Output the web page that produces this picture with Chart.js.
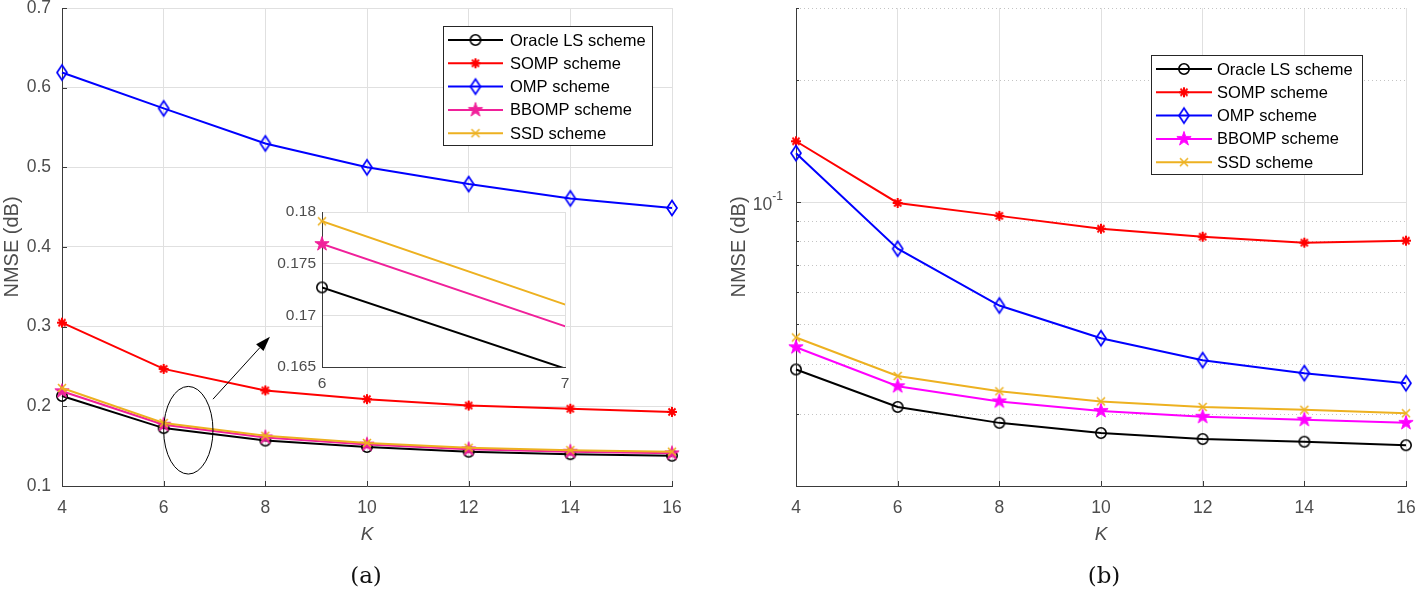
<!DOCTYPE html>
<html>
<head>
<meta charset="utf-8">
<script src="https://cdn.jsdelivr.net/npm/chart.js@4.4.0/dist/chart.umd.min.js"></script>
<style>
body { margin: 0; background: #fff; width: 1416px; height: 591px; overflow: hidden; position: relative; }
.pane { position: absolute; }
.cap { position: absolute; font-family: 'DejaVu Serif', 'Liberation Serif', serif; font-size: 23px; color: #111; transform: translate(-50%, -50%); }
</style>
</head>
<body>
<div class="pane" style="left:0;top:0"><canvas id="chartA" width="700" height="591"></canvas></div>
<div class="pane" style="left:708px;top:0"><canvas id="chartB" width="708" height="591"></canvas></div>
<div class="pane" style="left:250px;top:200px"><canvas id="inset" width="330" height="200"></canvas></div>
<div class="cap" style="left:366px;top:575px">(a)</div>
<div class="cap" style="left:1104px;top:575px">(b)</div>
<script>
// K values on the x axis
const K = [4, 6, 8, 10, 12, 14, 16];
const names = ['Oracle LS scheme', 'SOMP scheme', 'OMP scheme', 'BBOMP scheme', 'SSD scheme'];

// (a) linear axis
const oracleA = [0.213, 0.1727, 0.157, 0.149, 0.143, 0.140, 0.138];
const sompA   = [0.305, 0.247, 0.220, 0.209, 0.201, 0.197, 0.193];
const ompA    = [0.619, 0.574, 0.530, 0.500, 0.479, 0.461, 0.449];
const bbompA  = [0.219, 0.1769, 0.161, 0.152, 0.146, 0.143, 0.141];
const ssdA    = [0.223, 0.1791, 0.163, 0.154, 0.148, 0.145, 0.143];

// (b) log axis
const oracleB = [0.0387, 0.0313, 0.0286, 0.0270, 0.0261, 0.0257, 0.0252];
const sompB   = [0.141, 0.0994, 0.0924, 0.0859, 0.0821, 0.0794, 0.0803];
const ompB    = [0.1318, 0.0767, 0.0556, 0.0462, 0.0408, 0.0379, 0.0358];
const bbompB  = [0.0439, 0.0352, 0.0323, 0.0306, 0.0296, 0.0291, 0.0286];
const ssdB    = [0.0464, 0.0373, 0.0342, 0.0323, 0.0313, 0.0308, 0.0302];

const yTicksA = [0.1, 0.2, 0.3, 0.4, 0.5, 0.6, 0.7];
const yTicksInset = [0.165, 0.17, 0.175, 0.18];
const xTicksInset = [6, 7];
const yTicksB = [0.02, 0.03, 0.04, 0.05, 0.06, 0.07, 0.08, 0.09, 0.1, 0.2, 0.3];

const fam = "'Liberation Sans', Arial, sans-serif";
const tickColor = '#4d4d4d';
const gridColor = '#e0e0e0';
const axisColor = '#3a3a3a';

// marker images (matlab style)
function markerCanvas(w, h, paint) {
  const c = document.createElement('canvas');
  c.width = w; c.height = h;
  const g = c.getContext('2d');
  g.translate(w / 2, h / 2);
  paint(g);
  return c;
}
function circleMk(color) {
  return markerCanvas(14, 14, g => { g.strokeStyle = color; g.lineWidth = 1.6; g.beginPath(); g.arc(0, 0, 5.2, 0, Math.PI * 2); g.stroke(); });
}
function asteriskMk(color) {
  return markerCanvas(14, 14, g => {
    g.strokeStyle = color; g.lineWidth = 2; g.beginPath();
    for (let a = 0; a < 4; a++) {
      const t = a * Math.PI / 4;
      g.moveTo(-5 * Math.cos(t), -5 * Math.sin(t));
      g.lineTo(5 * Math.cos(t), 5 * Math.sin(t));
    }
    g.stroke();
  });
}
function diamondMk(color) {
  return markerCanvas(14, 20, g => {
    g.strokeStyle = color; g.lineWidth = 1.7; g.beginPath();
    g.moveTo(0, -7.5); g.lineTo(5, 0); g.lineTo(0, 7.5); g.lineTo(-5, 0); g.closePath(); g.stroke();
  });
}
function starMk(color) {
  return markerCanvas(18, 18, g => {
    const R = 7.5, r = R * 0.382;
    g.fillStyle = color; g.strokeStyle = color; g.lineWidth = 1; g.beginPath();
    for (let i = 0; i < 10; i++) {
      const rad = i % 2 ? r : R;
      const t = -Math.PI / 2 + i * Math.PI / 5;
      g.lineTo(rad * Math.cos(t), rad * Math.sin(t));
    }
    g.closePath(); g.fill(); g.stroke();
  });
}
function crossMk(color) {
  return markerCanvas(12, 12, g => {
    g.strokeStyle = color; g.lineWidth = 1.6; g.beginPath();
    g.moveTo(-4, -4); g.lineTo(4, 4); g.moveTo(-4, 4); g.lineTo(4, -4); g.stroke();
  });
}

const stylesA = [
  { color: '#000000', mk: circleMk('#000000') },
  { color: '#ff0000', mk: asteriskMk('#ff0000') },
  { color: '#0000ff', mk: diamondMk('#0000ff') },
  { color: '#f0209a', mk: starMk('#f0209a') },
  { color: '#edb120', mk: crossMk('#edb120') }
];
const stylesB = [
  { color: '#000000', mk: circleMk('#000000') },
  { color: '#ff0000', mk: asteriskMk('#ff0000') },
  { color: '#0000ff', mk: diamondMk('#0000ff') },
  { color: '#ff00ff', mk: starMk('#ff00ff') },
  { color: '#edb120', mk: crossMk('#edb120') }
];

function pts(vals) { return K.map((k, i) => ({ x: k, y: vals[i] })); }

function buildSets(series, styles, radius, clip) {
  return series.map((vals, i) => {
    const ds = {
      label: names[i],
      data: pts(vals),
      borderColor: styles[i].color,
      backgroundColor: styles[i].color,
      borderWidth: 2,
      pointStyle: styles[i].mk,
      pointRadius: radius,
      marker: styles[i].mk,
      tension: 0,
      fill: false,
      order: 10 - i
    };
    if (clip !== undefined) ds.clip = clip;
    return ds;
  });
}

// forces a scale to a fixed size so the plot box lands where the figure has it
function fixSize(w, h) {
  return function (scale) {
    if (w != null) scale.width = w;
    if (h != null) scale.height = h;
    scale.paddingTop = 0; scale.paddingBottom = 0; scale.paddingLeft = 0; scale.paddingRight = 0;
  };
}
function setTicks(list) {
  return function (scale) { scale.ticks = list.map(v => ({ value: v })); };
}

// legend box drawn inside the plot
function boxLegend(box, styles) {
  return {
    id: 'boxLegend',
    afterDraw(chart) {
      const ctx = chart.ctx;
      ctx.save();
      ctx.fillStyle = '#fff';
      ctx.fillRect(box.left, box.top, box.w, box.h);
      ctx.strokeStyle = '#262626';
      ctx.lineWidth = 1;
      ctx.strokeRect(box.left + 0.5, box.top + 0.5, box.w, box.h);
      ctx.font = '16.5px ' + fam;
      ctx.textBaseline = 'middle';
      names.forEach((n, i) => {
        const y = box.row0 + i * box.gap;
        ctx.strokeStyle = styles[i].color;
        ctx.lineWidth = 2;
        ctx.beginPath();
        ctx.moveTo(box.line0, y); ctx.lineTo(box.line1, y);
        ctx.stroke();
        const mk = styles[i].mk;
        ctx.drawImage(mk, (box.line0 + box.line1) / 2 - mk.width / 2, y - mk.height / 2);
        ctx.fillStyle = '#000';
        ctx.fillText(n, box.text, y + 1);
      });
      ctx.restore();
    }
  };
}

// small inward tick marks like matlab axes
function inwardTicks(xList, yList, minorList) {
  return {
    id: 'inwardTicks',
    afterDraw(chart) {
      const x = chart.scales.x, y = chart.scales.y, a = chart.chartArea, ctx = chart.ctx;
      ctx.save();
      ctx.strokeStyle = axisColor;
      ctx.lineWidth = 1;
      ctx.beginPath();
      xList.forEach(v => {
        const px = Math.round(x.getPixelForValue(v)) + 0.5;
        ctx.moveTo(px, a.bottom); ctx.lineTo(px, a.bottom - 5);
      });
      yList.forEach(v => {
        const py = Math.round(y.getPixelForValue(v)) + 0.5;
        ctx.moveTo(a.left, py); ctx.lineTo(a.left + 5, py);
      });
      (minorList || []).forEach(v => {
        const py = Math.round(y.getPixelForValue(v)) + 0.5;
        ctx.moveTo(a.left, py); ctx.lineTo(a.left + 3, py);
      });
      ctx.stroke();
      ctx.restore();
    }
  };
}

// ellipse around the K=6 cluster and arrow to the zoom panel
const zoomMark = {
  id: 'zoomMark',
  afterDatasetsDraw(chart) {
    const x = chart.scales.x, y = chart.scales.y, ctx = chart.ctx;
    const l = x.getPixelForValue(6.0), r = x.getPixelForValue(6.97);
    const t = y.getPixelForValue(0.225), b = y.getPixelForValue(0.115);
    ctx.save();
    ctx.strokeStyle = '#000';
    ctx.lineWidth = 1;
    ctx.beginPath();
    ctx.ellipse((l + r) / 2, (t + b) / 2, (r - l) / 2, (b - t) / 2, 0, 0, Math.PI * 2);
    ctx.stroke();
    const x0 = x.getPixelForValue(6.97), y0 = y.getPixelForValue(0.209);
    const x1 = x.getPixelForValue(8.09), y1 = y.getPixelForValue(0.2875);
    const ang = Math.atan2(y1 - y0, x1 - x0);
    const hl = 15, hw = 5;
    const bx = x1 - hl * Math.cos(ang), by = y1 - hl * Math.sin(ang);
    ctx.beginPath();
    ctx.moveTo(x0, y0); ctx.lineTo(bx, by); ctx.stroke();
    ctx.fillStyle = '#000';
    ctx.beginPath();
    ctx.moveTo(x1, y1);
    ctx.lineTo(bx + hw * Math.sin(ang), by - hw * Math.cos(ang));
    ctx.lineTo(bx - hw * Math.sin(ang), by + hw * Math.cos(ang));
    ctx.closePath();
    ctx.fill();
    ctx.restore();
  }
};

const whiteArea = {
  id: 'whiteArea',
  beforeDraw(chart) {
    const a = chart.chartArea, ctx = chart.ctx;
    ctx.save(); ctx.fillStyle = '#fff'; ctx.fillRect(a.left, a.top, a.right - a.left, a.bottom - a.top); ctx.restore();
  }
};

// markers of the zoom panel, drawn unclipped at the points that fall inside its x range
const insetMarks = {
  id: 'insetMarks',
  afterDatasetsDraw(chart) {
    const a = chart.chartArea, ctx = chart.ctx;
    chart.data.datasets.forEach((ds, di) => {
      chart.getDatasetMeta(di).data.forEach(el => {
        if (el.x < a.left - 0.5 || el.x > a.right + 0.5) return;
        const mk = ds.marker;
        ctx.drawImage(mk, el.x - mk.width / 2, el.y - mk.height / 2);
      });
    });
  }
};

// log-axis grid (solid at decade, dotted at minor) and the 10^-1 label
const logGrid = {
  id: 'logGrid',
  beforeDatasetsDraw(chart) {
    const s = chart.scales.y, a = chart.chartArea, ctx = chart.ctx;
    ctx.save();
    yTicksB.forEach(v => {
      if (v === yTicksB[0]) return;
      const py = Math.round(s.getPixelForValue(v)) + 0.5;
      ctx.beginPath();
      if (v === 0.1) { ctx.setLineDash([]); ctx.strokeStyle = gridColor; }
      else { ctx.setLineDash([1, 3]); ctx.strokeStyle = '#c4c4c4'; }
      ctx.lineWidth = 1;
      ctx.moveTo(a.left, py); ctx.lineTo(a.right, py);
      ctx.stroke();
    });
    ctx.restore();
  },
  afterDraw(chart) {
    const s = chart.scales.y, a = chart.chartArea, ctx = chart.ctx;
    const py = s.getPixelForValue(0.1);
    ctx.save();
    ctx.fillStyle = tickColor;
    ctx.textBaseline = 'middle';
    ctx.font = '12px ' + fam;
    const supW = ctx.measureText('-1').width;
    ctx.font = '17.5px ' + fam;
    const baseW = ctx.measureText('10').width;
    const x0 = a.left - 13 - supW - baseW;
    ctx.fillText('10', x0, py + 3);
    ctx.font = '12px ' + fam;
    ctx.fillText('-1', x0 + baseW, py - 5);
    ctx.restore();
  }
};

function xAxis(tickSize) {
  return {
    type: 'linear', min: 4, max: 16,
    afterFit: fixSize(null, 60),
    afterBuildTicks: setTicks(K),
    ticks: { padding: 12, color: tickColor, font: { family: fam, size: tickSize } },
    grid: { color: gridColor, drawTicks: false },
    border: { color: axisColor, width: 1 },
    title: { display: true, text: 'K', color: tickColor, font: { family: fam, size: 19, style: 'italic' }, padding: { top: 0, bottom: 0 } }
  };
}

new Chart(document.getElementById('chartA'), {
  type: 'line',
  data: { datasets: buildSets([oracleA, sompA, ompA, bbompA, ssdA], stylesA, 6, false) },
  options: {
    responsive: false, animation: false, events: [],
    layout: { padding: { left: 0, right: 28, top: 7, bottom: 45 } },
    plugins: { legend: { display: false }, tooltip: { enabled: false } },
    scales: {
      x: xAxis(17.5),
      y: {
        min: 0.1, max: 0.7,
        afterFit: fixSize(62, null),
        afterBuildTicks: setTicks(yTicksA),
        ticks: { padding: 11, color: tickColor, font: { family: fam, size: 17.5 }, callback: v => v.toFixed(1) },
        grid: { color: gridColor, drawTicks: false },
        border: { color: axisColor, width: 1 },
        title: { display: true, text: 'NMSE (dB)', color: tickColor, font: { family: fam, size: 20 }, padding: { top: 0, bottom: 0 } }
      }
    }
  },
  plugins: [inwardTicks(K, yTicksA), zoomMark, boxLegend({ left: 443, top: 26, w: 209, h: 119, row0: 40, gap: 23.3, line0: 448, line1: 503, text: 510 }, stylesA)]
});

const insetSets = buildSets([oracleA, sompA, ompA, bbompA, ssdA], stylesA, 0);
new Chart(document.getElementById('inset'), {
  type: 'line',
  data: { datasets: [insetSets[0], insetSets[3], insetSets[4]] },
  options: {
    responsive: false, animation: false, events: [],
    layout: { padding: { left: 0, right: 15, top: 12, bottom: 0 } },
    plugins: { legend: { display: false }, tooltip: { enabled: false } },
    scales: {
      x: {
        type: 'linear', min: 6, max: 7,
        afterFit: fixSize(null, 33),
        afterBuildTicks: setTicks(xTicksInset),
        ticks: { padding: 7, color: tickColor, font: { family: fam, size: 15.5 } },
        grid: { color: gridColor, drawTicks: false },
        border: { color: axisColor, width: 1 }
      },
      y: {
        min: 0.165, max: 0.18,
        afterFit: fixSize(72, null),
        afterBuildTicks: setTicks(yTicksInset),
        ticks: { padding: 6, color: tickColor, font: { family: fam, size: 15.5 }, callback: v => String(+v.toFixed(3)) },
        grid: { color: gridColor, drawTicks: false },
        border: { color: axisColor, width: 1 }
      }
    }
  },
  plugins: [whiteArea, insetMarks]
});

new Chart(document.getElementById('chartB'), {
  type: 'line',
  data: { datasets: buildSets([oracleB, sompB, ompB, bbompB, ssdB], stylesB, 6, false) },
  options: {
    responsive: false, animation: false, events: [],
    layout: { padding: { left: 0, right: 10, top: 7, bottom: 45 } },
    plugins: { legend: { display: false }, tooltip: { enabled: false } },
    scales: {
      x: xAxis(17.5),
      y: {
        type: 'logarithmic', min: 0.02, max: 0.3,
        afterFit: fixSize(88, null),
        ticks: { display: false },
        grid: { display: false },
        border: { color: axisColor, width: 1 },
        title: { display: true, text: 'NMSE (dB)', color: tickColor, font: { family: fam, size: 20 }, padding: { top: 19, bottom: 0 } }
      }
    }
  },
  plugins: [logGrid, inwardTicks(K, [0.1], yTicksB.filter(v => v !== 0.1)), boxLegend({ left: 443, top: 55, w: 211, h: 119, row0: 69, gap: 23.3, line0: 448, line1: 504, text: 509 }, stylesB)]
});
</script>
</body>
</html>
